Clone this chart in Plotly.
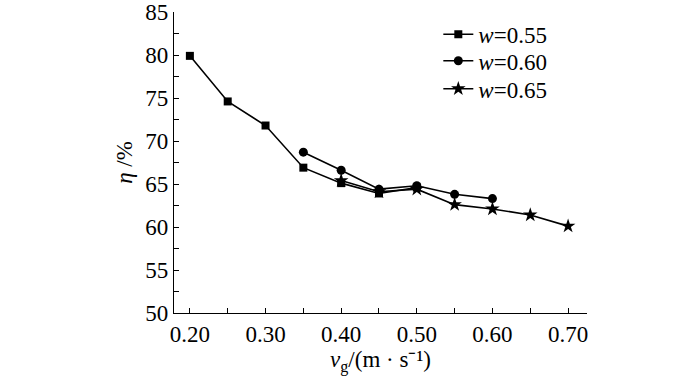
import plotly.graph_objects as go

x55 = [0.20, 0.25, 0.30, 0.35, 0.40, 0.45, 0.50]
y55 = [79.9, 74.6, 71.8, 66.9, 65.1, 63.9, 64.6]
x60 = [0.35, 0.40, 0.45, 0.50, 0.55, 0.60]
y60 = [68.7, 66.6, 64.4, 64.8, 63.8, 63.3]
x65 = [0.40, 0.45, 0.50, 0.55, 0.60, 0.65, 0.70]
y65 = [65.4, 64.1, 64.4, 62.6, 62.1, 61.4, 60.1]
names = ["<i>w</i>=0.55", "<i>w</i>=0.60", "<i>w</i>=0.65"]
xticks = [0.20, 0.30, 0.40, 0.50, 0.60, 0.70]
xticklabels = ["0.20", "0.30", "0.40", "0.50", "0.60", "0.70"]
yticks = [50, 55, 60, 65, 70, 75, 80, 85]

FONT = "Liberation Serif"
FS = 23
fig = go.Figure()
legends = ["legend", "legend2", "legend3"]
for xs, ys, nm, sym, sz, lg in [(x55, y55, names[0], "square", 8, legends[0]),
                                (x60, y60, names[1], "circle", 9, legends[1]),
                                (x65, y65, names[2], "star", 11, legends[2])]:
    fig.add_trace(go.Scatter(x=xs, y=ys, name=nm, mode="lines+markers", legend=lg,
                             showlegend=True,
                             line=dict(color="black", width=1.6),
                             marker=dict(symbol=sym, size=sz, color="black")))

axis_common = dict(showline=True, linecolor="black", linewidth=1.3,
                   ticks="inside", ticklen=5, tickwidth=1.2, tickcolor="black",
                   showgrid=False, zeroline=False, ticklabeloverflow="allow",
                   tickfont=dict(family=FONT, size=FS, color="black"))
fig.update_xaxes(range=[0.179, 0.725], tickvals=xticks, ticktext=xticklabels,
                 minor=dict(dtick=0.05, tick0=0.2, ticks="inside", ticklen=5,
                            tickwidth=1.2, tickcolor="black"),
                 title=dict(text="<i>v</i><sub>g</sub>/(m · s⁻¹)",
                            font=dict(family=FONT, size=FS, color="black"), standoff=4),
                 **axis_common)
fig.update_yaxes(range=[50, 85], tickvals=yticks,
                 minor=dict(dtick=2.5, tick0=50, ticks="inside", ticklen=5,
                            tickwidth=1.2, tickcolor="black"),
                 title=dict(text="<i>η</i> /%",
                            font=dict(family=FONT, size=FS, color="black"), standoff=6),
                 **axis_common)
leg_common = dict(x=0.64, xanchor="left", yanchor="middle",
                  font=dict(family=FONT, size=FS, color="black"),
                  bgcolor="rgba(0,0,0,0)", itemwidth=30)
fig.update_layout(width=700, height=376, plot_bgcolor="white", paper_bgcolor="white",
                  showlegend=True,
                  margin=dict(l=174, r=113, t=12, b=63, autoexpand=False),
                  legend=dict(y=0.926, **leg_common),
                  legend2=dict(y=0.838, **leg_common),
                  legend3=dict(y=0.745, **leg_common))
fig.write_html("out.html", config={"displayModeBar": False},
               post_script="document.body.style.margin='0';")
